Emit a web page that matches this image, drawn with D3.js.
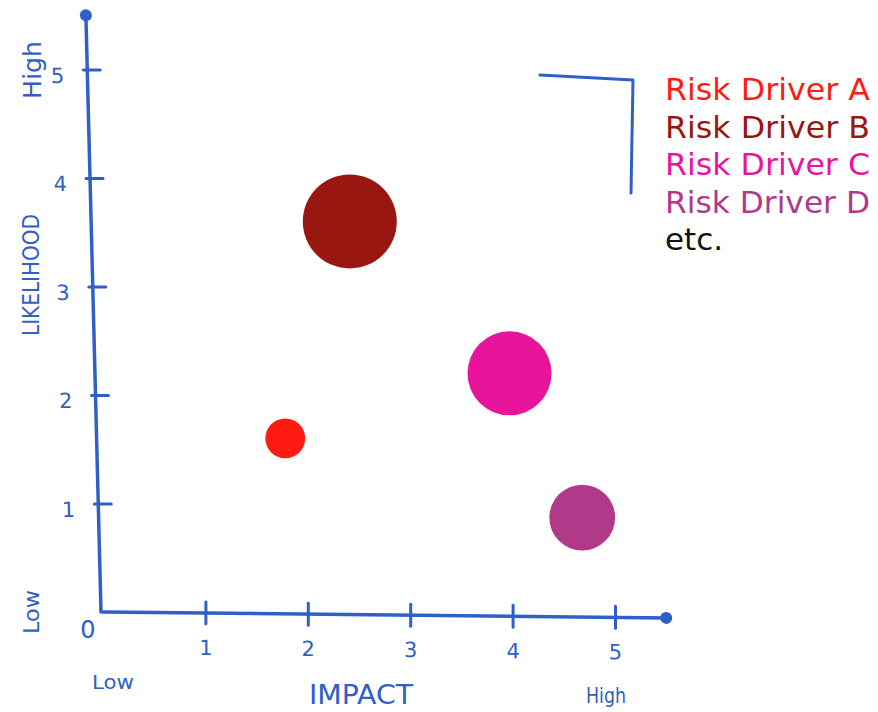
<!DOCTYPE html>
<html>
<head>
<meta charset="utf-8">
<script src="https://cdn.jsdelivr.net/npm/d3@7"></script>
<style>
  html, body { margin: 0; padding: 0; background: #fff; }
  svg { display: block; }
</style>
</head>
<body>
<script>
// Risk drivers: impact (x), likelihood (y), severity (bubble area)
const drivers = ["Risk Driver A", "Risk Driver B", "Risk Driver C", "Risk Driver D"];
const impact = [1.78, 2.41, 3.97, 4.68];
const likelihood = [1.6, 3.6, 2.2, 0.87];
const severity = [1.8, 10, 8, 4.9];
const colors = ["#ff1a12", "#991611", "#e8159c", "#b03a89"];
const ticks = [1, 2, 3, 4, 5];
const legendExtra = "etc.";

const width = 878, height = 712;
const blue = "#2f60c6";
const font = "'DejaVu Sans', sans-serif";

const x0 = 103, y0 = 612; // origin
const x = d3.scaleLinear().domain([0, 5.5]).range([x0, x0 + 5.5 * 102.4]);
const y = d3.scaleLinear().domain([0, 5.5]).range([y0, y0 - 5.5 * 108.5]);
const r = d3.scaleSqrt().domain([0, 10]).range([0, 47]);

const svg = d3.select("body").append("svg")
    .attr("width", width)
    .attr("height", height)
    .attr("viewBox", [0, 0, width, height]);

// y axis, slightly slanted like the hand drawing
const yAxis = d3.axisLeft(d3.scaleLinear().domain(y.domain()).range(y.range().map(v => v - y0)))
    .tickValues(ticks)
    .tickFormat(d3.format("d"))
    .tickSize(0)
    .tickPadding(0);

const gy = svg.append("g")
    .attr("transform", `translate(${x0 - 2},${y0}) skewX(1.45)`)
    .call(yAxis)
    .call(g => g.select(".domain").remove());

gy.append("line")
    .attr("y1", 0).attr("y2", y(5.5) - y0)
    .attr("stroke", blue).attr("stroke-width", 3.5).attr("stroke-linecap", "round");
gy.selectAll(".tick line")
    .attr("x1", -4).attr("x2", 13)
    .attr("stroke", blue).attr("stroke-width", 3).attr("stroke-linecap", "round");
gy.selectAll(".tick text")
    .attr("x", -30).attr("dy", "0.6em")
    .attr("fill", blue).attr("font-family", font).attr("font-size", 21)
    .attr("text-anchor", "middle");
gy.append("circle")
    .attr("cy", y(5.5) - y0).attr("r", 6).attr("fill", blue);

// x axis, drooping a little to the right
const xAxis = d3.axisBottom(d3.scaleLinear().domain(x.domain()).range(x.range().map(v => v - x0)))
    .tickValues(ticks)
    .tickFormat(d3.format("d"))
    .tickSize(0)
    .tickPadding(0);

const gx = svg.append("g")
    .attr("transform", `translate(${x0},${y0}) skewY(0.6)`)
    .call(xAxis)
    .call(g => g.select(".domain").remove());

gx.append("line")
    .attr("x1", 0).attr("x2", x(5.5) - x0)
    .attr("stroke", blue).attr("stroke-width", 3.5).attr("stroke-linecap", "round");
gx.selectAll(".tick line")
    .attr("y1", -11).attr("y2", 11)
    .attr("stroke", blue).attr("stroke-width", 3).attr("stroke-linecap", "round");
gx.selectAll(".tick text")
    .attr("y", 27)
    .attr("fill", blue).attr("font-family", font).attr("font-size", 21)
    .attr("text-anchor", "middle");
gx.append("circle")
    .attr("cx", x(5.5) - x0).attr("r", 6).attr("fill", blue);

// zero label
svg.append("text")
    .attr("x", x0 - 15).attr("y", y0 + 26)
    .attr("text-anchor", "middle")
    .attr("fill", blue).attr("font-family", font).attr("font-size", 24)
    .text("0");

// axis titles
const label = (tx, ty, txt, size, len, rot) => svg.append("text")
    .attr("transform", `translate(${tx},${ty})` + (rot ? " rotate(-90)" : ""))
    .attr("text-anchor", "middle")
    .attr("fill", blue).attr("font-family", font).attr("font-size", size)
    .attr("textLength", len).attr("lengthAdjust", "spacingAndGlyphs")
    .text(txt);

label(361, 704, "IMPACT", 26, 104);
label(113, 689, "Low", 19, 42);
label(606, 703, "High", 21, 40);
label(39, 275, "LIKELIHOOD", 23, 122, true);
label(39, 612, "Low", 22, 44, true);
label(41, 70, "High", 24, 58, true);

// bubbles
svg.append("g")
  .selectAll("circle")
  .data(d3.range(drivers.length))
  .join("circle")
    .attr("cx", i => x(impact[i]))
    .attr("cy", i => y(likelihood[i]))
    .attr("r", i => r(severity[i]))
    .attr("fill", i => colors[i]);

// legend
const lx = 665, ly = 100, lh = 37.5;
const legend = svg.append("g").attr("font-family", font).attr("font-size", 31);

legend.selectAll("text")
  .data(drivers.concat([legendExtra]))
  .join("text")
    .attr("x", lx)
    .attr("y", (d, i) => ly + i * lh)
    .attr("fill", (d, i) => colors[i] || "#111")
    .attr("textLength", (d, i) => i < drivers.length ? 205 : 58)
    .attr("lengthAdjust", "spacingAndGlyphs")
    .text(d => d);

legend.append("path")
    .attr("d", `M${lx - 125},${ly - 25} L${lx - 32},${ly - 20} L${lx - 34},${ly + 93}`)
    .attr("fill", "none")
    .attr("stroke", blue).attr("stroke-width", 3)
    .attr("stroke-linejoin", "round").attr("stroke-linecap", "round");
</script>
</body>
</html>
